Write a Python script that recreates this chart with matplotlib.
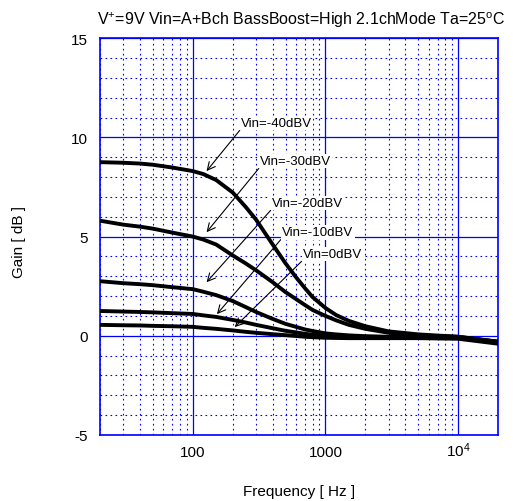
import matplotlib
matplotlib.use('Agg')
import matplotlib.pyplot as plt
from matplotlib.ticker import FixedLocator, FixedFormatter, MultipleLocator

plt.rcParams['font.family'] = ['Liberation Sans', 'DejaVu Sans']
plt.rcParams['mathtext.fontset'] = 'custom'
plt.rcParams['mathtext.rm'] = 'Liberation Sans'
plt.rcParams['mathtext.it'] = 'Liberation Sans'
plt.rcParams['axes.unicode_minus'] = False

# data
freq = [20, 30, 40, 50, 70, 100, 120, 150, 200, 250, 300, 400, 500, 600, 700, 800,
        1000, 1200, 1500, 2000, 3000, 5000, 10000, 20000]
gain_m40 = [8.75, 8.72, 8.68, 8.62, 8.48, 8.3, 8.15, 7.85, 7.22, 6.5, 5.85, 4.6, 3.65, 2.95, 2.4, 1.95,
            1.4, 1.05, 0.75, 0.48, 0.22, 0.07, -0.05, -0.3]
gain_m30 = [5.8, 5.6, 5.5, 5.4, 5.2, 5.0, 4.85, 4.6, 4.05, 3.65, 3.3, 2.7, 2.2, 1.85, 1.55, 1.3,
            1.0, 0.78, 0.55, 0.35, 0.15, 0.02, -0.05, -0.3]
gain_m20 = [2.75, 2.65, 2.6, 2.55, 2.45, 2.35, 2.22, 2.05, 1.75, 1.45, 1.2, 0.85, 0.6, 0.45, 0.32, 0.24,
            0.12, 0.07, 0.02, -0.02, -0.05, -0.05, -0.08, -0.3]
gain_m10 = [1.25, 1.22, 1.2, 1.18, 1.14, 1.1, 1.03, 0.95, 0.8, 0.67, 0.55, 0.38, 0.25, 0.17, 0.1, 0.05,
            0.0, -0.03, -0.05, -0.07, -0.08, -0.08, -0.1, -0.35]
gain_0 = [0.55, 0.53, 0.52, 0.5, 0.48, 0.45, 0.4, 0.35, 0.27, 0.2, 0.15, 0.08, 0.03, -0.01, -0.05, -0.07,
          -0.1, -0.11, -0.12, -0.12, -0.12, -0.12, -0.15, -0.4]

labels = ['Vin=-40dBV', 'Vin=-30dBV', 'Vin=-20dBV', 'Vin=-10dBV', 'Vin=0dBV']
# arrow tip (freq, gain) and label anchor (freq, gain)
tips = [(127, 8.3), (127, 5.22), (127, 2.7), (152, 1.09), (207, 0.44)]
label_pos = [(230, 10.72), (320, 8.8), (394, 6.69), (470, 5.22), (676, 4.12)]

xticks = [100, 1000, 10000]
xticklabels = ['100', '1000', '$10^4$']
yticks = [-5, 0, 5, 10, 15]

blue = '#0000ff'

fig = plt.figure(figsize=(5.13, 5.02), dpi=100)
ax = fig.add_axes([0.195, 0.1315, 0.776, 0.7905])

for g in [gain_m40, gain_m30, gain_m20, gain_m10, gain_0]:
    ax.plot(freq, g, color='black', lw=2.8, solid_joinstyle='round', zorder=3)

ax.set_xscale('log')
ax.set_xlim(20, 20000)
ax.set_ylim(-5, 15)

ax.xaxis.set_major_locator(FixedLocator(xticks))
ax.xaxis.set_major_formatter(FixedFormatter(xticklabels))
ax.set_yticks(yticks)
ax.yaxis.set_minor_locator(MultipleLocator(1))

ax.grid(which='major', color=blue, lw=0.9, ls='-')
ax.grid(which='minor', color=blue, lw=0.8, ls=(0, (1.5, 3)))
ax.tick_params(which='both', length=0, labelsize=11)
ax.tick_params(axis='x', pad=15)
ax.tick_params(axis='y', pad=9)
for lbl in ax.get_xticklabels():
    lbl.set_verticalalignment('baseline')
for s in ax.spines.values():
    s.set_color(blue)
    s.set_linewidth(1.2)

for lab, tip, pos in zip(labels, tips, label_pos):
    ax.annotate(lab, xy=tip, xytext=pos, ha='left', va='center', fontsize=9.5,
                bbox=dict(boxstyle='square,pad=0.1', fc='white', ec='none'),
                arrowprops=dict(arrowstyle='->', color='black', lw=0.8,
                                relpos=(0, 0), shrinkA=0, shrinkB=0,
                                mutation_scale=14),
                zorder=4)

ax.set_ylabel('Gain [ dB ]', fontsize=11)
ax.yaxis.set_label_coords(-0.185, 0.49)
ax.set_xlabel('Frequency [ Hz ]', fontsize=11)
ax.xaxis.set_label_coords(0.5, -0.124)

fig.text(0.587, 1 - 20 / 502, 'V$^{+}$=9V Vin=A+Bch BassBoost=High 2.1chMode Ta=25$^{o}$C',
         ha='center', va='center', fontsize=11.5)

fig.savefig('out.png', dpi=100)
